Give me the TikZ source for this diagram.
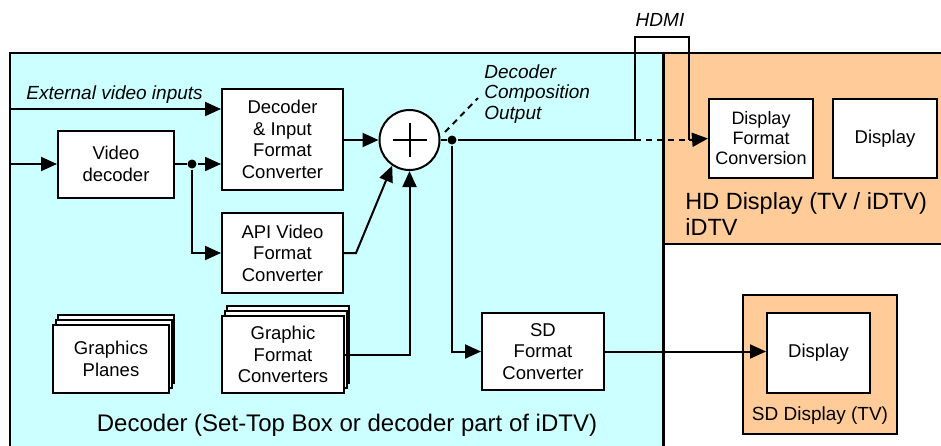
\documentclass[tikz,border=0pt]{standalone}
\usepackage{fontspec}
\setmainfont{Liberation Sans}
\usetikzlibrary{arrows.meta}
\usetikzlibrary{shadows}
\usepackage{xcolor}
\definecolor{stbcyan}{HTML}{CCFFFF}
\definecolor{tvorange}{HTML}{FFCC99}
\newcommand{\boxfont}{\fontsize{18.5}{21.5}\selectfont}
\newcommand{\bigfont}{\fontsize{24}{26}\selectfont}
\newcommand{\notefont}{\fontsize{19}{20.5}\selectfont\itshape}
\tikzset{
  blk/.style={draw, fill=white, line width=2pt, align=center, inner sep=0pt, font=\boxfont},
  stack/.style={double copy shadow={shadow xshift=2.5pt, shadow yshift=5pt}},
  arr/.style={-{Triangle[length=16pt,width=14pt]}},
  jdot/.style={circle, fill=black, inner sep=0pt, minimum size=9pt},
}

\begin{document}
\begin{tikzpicture}[x=1pt,y=-1pt,line width=2pt]
  \useasboundingbox (0,0) rectangle (941,445);
  % decoder and display areas
  \fill[stbcyan] (10,53) rectangle (663,450);
  \draw (10,450) -- (10,53) -- (663,53);
  \fill[tvorange] (663,53) rectangle (945,244);
  \draw (663,53) -- (945,53);
  \draw (663,244) -- (945,244);
  \draw[line width=3pt] (663,53) -- (663,450);
  \node[font=\bigfont, anchor=base] (declbl) at (347,431) {Decoder (Set-Top Box or decoder part of iDTV)};
  \node[font=\fontsize{23.5}{26}\selectfont, anchor=base west] (hdlbl) at (681,209) {HD Display (TV / iDTV)};
  \node[font=\fontsize{23.5}{26}\selectfont, anchor=base west] (hdlbl2) at (681,235) {iDTV};

  % blocks
  \node[blk, minimum width=116, minimum height=67] (vdec) at (116,164) {Video\\decoder};
  \node[blk, minimum width=121, minimum height=101] (dicf) at (282.5,139.5) {Decoder\\\& Input\\Format\\Converter};
  \node[blk, minimum width=121, minimum height=80] (apif) at (282.5,253) {API Video\\Format\\Converter};
  \node[blk, stack, minimum width=116, minimum height=68] (gp) at (111,359) {Graphics\\Planes};
  \node[blk, stack, minimum width=122, minimum height=77] (gfc) at (283,354.5) {Graphic\\Format\\Converters};
  \node[blk, circle, minimum size=60] (sum) at (409.5,140) {};
  \draw (sum.center) ++(-17,0) -- ++(34,0);
  \draw (sum.center) ++(0,-17) -- ++(0,34);
  \node[blk, minimum width=122, minimum height=77] (sdfc) at (543,351.5) {SD\\Format\\Converter};
  \node[blk, minimum width=104, minimum height=79, font=\fontsize{18}{20}\selectfont] (dfc) at (761,138.5) {Display\\Format\\Conversion};
  \node[blk, minimum width=104, minimum height=79] (hddisp) at (885,138.5) {Display};
  \node[draw, fill=tvorange, minimum width=154, minimum height=139, inner sep=0pt] (sdtv) at (820,364.5) {};
  \node[blk, minimum width=103, minimum height=80] (sddisp) at (818.5,353) {Display};
  \node[font=\fontsize{19}{22}\selectfont, anchor=base] (sdlbl) at (820,420) {SD Display (TV)};

  % junctions and free ends
  \node[jdot] (j1) at (192,164) {};
  \node[jdot] (j2) at (452,140) {};
  \coordinate (extin) at (10,109);
  \coordinate (vin) at (10,164);
  \coordinate (hdmia) at (635,140);
  \coordinate (hdmib) at (689,140);

  % connectors
  \draw[arr] (extin) -- (extin -| dicf.west);
  \draw[arr] (vin) -- (vdec.west);
  \draw (vdec.east) -- (j1);
  \draw[arr] (j1) -- (j1 -| dicf.west);
  \draw[arr] (j1) |- (apif.west);
  \draw[arr] (dicf.east |- sum.west) -- (sum.west);
  \draw[arr] (apif.east) -- ++(12,0) -- (sum.236);
  \draw[arr] (gfc.east) -| (sum.south);
  \draw (sum.east) -- (j2);
  \draw[arr] (j2) |- (sdfc.west);
  \draw[arr] (sdfc.east) -- (sdfc.east -| sddisp.west);
  \draw (j2) -- (hdmia);
  \draw (hdmia) -- ++(0,-103) -| (hdmib);
  \draw[dash pattern=on 6pt off 5pt] (hdmia) -- (hdmib);
  \draw[arr] (hdmib) -- (dfc.west);
  \draw[dash pattern=on 6pt off 5pt] (445,132) -- (478,98);

  % labels
  \node[font=\notefont, anchor=west] (extlbl) at (22,95) {External video inputs};
  \node[font=\notefont, anchor=west, align=left] (outlbl) at (480,94) {Decoder\\Composition\\Output};
  \node[font=\notefont] (hdmilbl) at (660,20) {HDMI};
\end{tikzpicture}
\end{document}
